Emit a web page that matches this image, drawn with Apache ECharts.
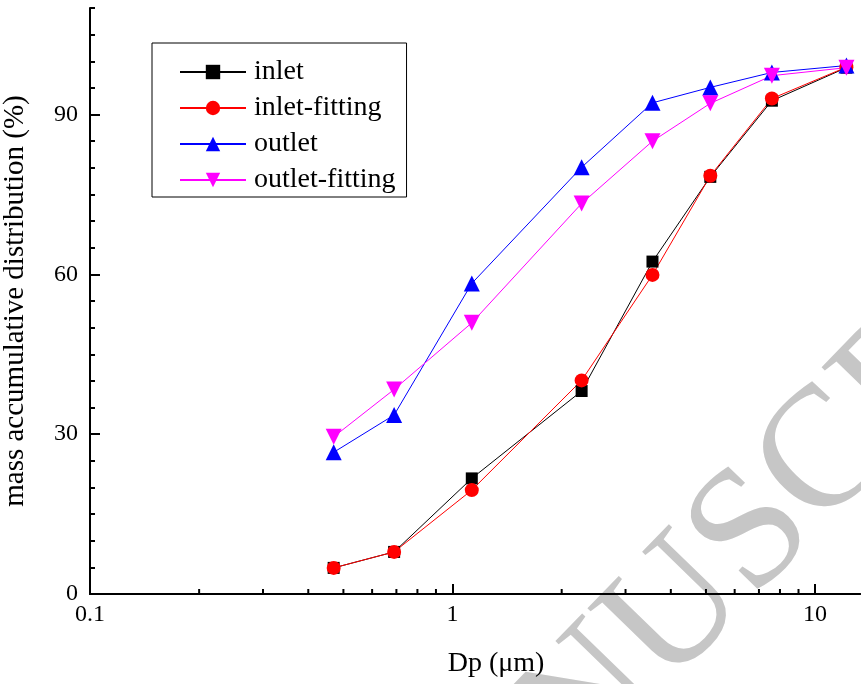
<!DOCTYPE html>
<html>
<head>
<meta charset="utf-8">
<title>mass accumulative distribution</title>
<script src="https://cdn.jsdelivr.net/npm/echarts@6/dist/echarts.min.js"></script>
<style>
  html, body { margin: 0; padding: 0; background: #fff; }
  #chart { width: 861px; height: 684px; }
</style>
</head>
<body>
<div id="chart"></div>
<script>
// particle size (um)
var dp = [0.47, 0.69, 1.13, 2.27, 3.56, 5.14, 7.6, 12.2];
// mass accumulative distribution (%)
var inlet = [4.9, 7.9, 21.7, 38.1, 62.4, 78.3, 92.6, 98.8];
var inletFit = [4.9, 7.9, 19.5, 40.1, 59.9, 78.5, 93.0, 98.9];
var outlet = [26.6, 33.6, 58.3, 80.1, 92.2, 95.1, 97.9, 99.2];
var outletFit = [29.5, 38.4, 50.9, 73.3, 85.0, 92.1, 97.3, 98.8];
// log axis minor tick positions
var xMinor = [0.2, 0.3, 0.4, 0.5, 0.6, 0.7, 0.8, 0.9, 2, 3, 4, 5, 6, 7, 8, 9];

var font = "Liberation Serif";

function pairs(ys) {
  return dp.map(function (x, i) { return [x, ys[i]]; });
}

function lineSeries(name, ys, color, symbol, size, rotate) {
  return {
    name: name,
    type: "line",
    data: pairs(ys),
    symbol: symbol,
    symbolSize: size,
    symbolRotate: rotate || 0,
    itemStyle: { color: color },
    lineStyle: { color: color, width: 1 },
    emphasis: { disabled: true },
    animation: false
  };
}

var chart = echarts.init(document.getElementById("chart"));

var option = {
  backgroundColor: "#fff",
  animation: false,
  grid: { left: 90, top: 8, right: 1, bottom: 90, outerBoundsMode: "none", containLabel: false },
  graphic: [
    {
      // watermark
      type: "text",
      z: -10,
      x: 740,
      y: 548,
      rotation: 0.80,
      style: {
        text: "MANUSCRIPT",
        font: "172px Liberation Serif",
        fill: "#c6c6c6",
        align: "center",
        verticalAlign: "middle"
      }
    }
  ],
  legend: {
    orient: "vertical",
    left: 152,
    top: 43,
    data: ["inlet", "inlet-fitting", "outlet", "outlet-fitting"],
    itemWidth: 66,
    itemHeight: 18,
    itemGap: 6,
    padding: [14, 11, 2, 27],
    borderColor: "#000",
    borderWidth: 1,
    borderRadius: 0,
    textStyle: { fontFamily: font, fontSize: 28, color: "#000", lineHeight: 30, padding: [0, 0, 0, 3] }
  },
  xAxis: [
    {
      type: "log",
      logBase: 10,
      min: 0.1,
      max: 13.3,
      name: "Dp (μm)",
      nameLocation: "middle",
      nameGap: 56,
      nameTextStyle: { fontFamily: font, fontSize: 28, color: "#000", padding: [0, 0, 0, 42] },
      axisLine: { lineStyle: { color: "#000", width: 2 } },
      axisTick: { inside: true, length: 10, lineStyle: { color: "#000", width: 2 } },
      axisLabel: { fontFamily: font, fontSize: 24, color: "#000", margin: 9, showMaxLabel: false },
      splitLine: { show: false }
    },
    {
      type: "log",
      logBase: 10,
      min: 0.1,
      max: 13.3,
      position: "top",
      axisLine: { lineStyle: { color: "#000", width: 2 } },
      axisTick: { show: false },
      axisLabel: { show: false },
      splitLine: { show: false }
    }
  ],
  yAxis: [
    {
      type: "value",
      min: 0,
      max: 110,
      interval: 30,
      name: "mass accumulative distribution (%)",
      nameLocation: "middle",
      nameGap: 60,
      nameTextStyle: { fontFamily: font, fontSize: 29, color: "#000" },
      axisLine: { show: true, lineStyle: { color: "#000", width: 2 } },
      axisTick: { inside: true, length: 10, lineStyle: { color: "#000", width: 2 } },
      axisLabel: { fontFamily: font, fontSize: 24, color: "#000", margin: 12, showMaxLabel: false },
      splitLine: { show: false }
    },
    {
      // minor ticks every 5
      type: "value",
      min: 0,
      max: 110,
      interval: 5,
      position: "left",
      axisLine: { show: false },
      axisTick: { inside: true, length: 5, lineStyle: { color: "#000", width: 2 } },
      axisLabel: { show: false },
      splitLine: { show: false }
    }
  ],
  series: [
    {
      // log axis minor ticks (2..9 of each decade)
      type: "custom",
      silent: true,
      data: xMinor.map(function (v) { return [v, 0]; }),
      renderItem: function (params, api) {
        var p = api.coord([api.value(0), 0]);
        return {
          type: "line",
          shape: { x1: p[0], y1: p[1], x2: p[0], y2: p[1] - 5 },
          style: { stroke: "#000", lineWidth: 2 }
        };
      },
      z: 1
    },
    lineSeries("inlet", inlet, "#000000", "rect", 12),
    lineSeries("inlet-fitting", inletFit, "#ff0000", "circle", 14),
    lineSeries("outlet", outlet, "#0000ff", "triangle", 16),
    lineSeries("outlet-fitting", outletFit, "#ff00ff", "triangle", 16, 180)
  ]
};

chart.setOption(option);
</script>
</body>
</html>
